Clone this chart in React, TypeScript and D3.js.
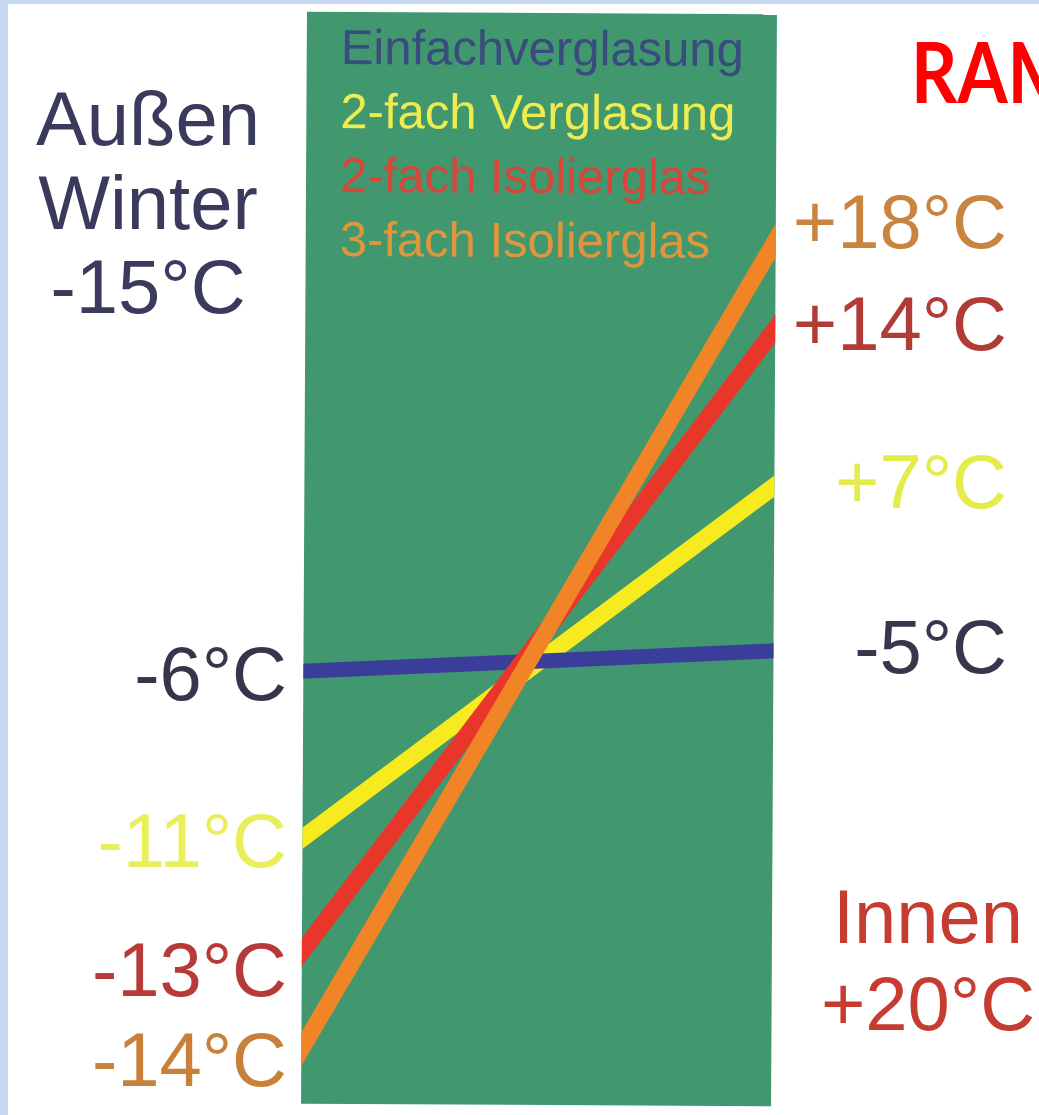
import React from "react";
import * as d3 from "d3";

// ---- data ----
const series = ["Einfachverglasung", "2-fach Verglasung", "2-fach Isolierglas", "3-fach Isolierglas"];
// surface temperature on the outside face (left) and inside face (right), °C
const outsideTemps = [-6, -11, -13, -14];
const insideTemps = [-5, 7, 14, 18];
// schematic height of each line end inside the panel (0 = top, 100 = bottom)
const outsideLevel = [60.4, 75.7, 86.1, 95.0];
const insideLevel = [58.3, 43.2, 28.8, 20.7];
const outsideCondition = ["Außen", "Winter", "-15°C"];
const insideCondition = ["Innen", "+20°C"];
const title = "RAM";

// ---- styles ----
const lineColors = ["#3b3d9a", "#f7ea1e", "#e9362b", "#f08426"];
const lineWidths = [15, 17, 17, 17];
const legendColors = ["#3a4b7e", "#eeec4e", "#d8463a", "#df963c"];
const outsideLabelColors = ["#35364c", "#e9ef5a", "#b63a38", "#c98039"];
const insideLabelColors = ["#36374d", "#e3ec4a", "#b23b36", "#c9843f"];
const outsideNudge = [0, 0, 15, 8];
const insideNudge = [-4, -4, -5, -18];
const drawOrder = [1, 0, 2, 3];

const W = 1039;
const H = 1115;
const panel = { x0: 304, x1: 774, y0: 13, y1: 1105 };
const FONT = "'Liberation Sans', Arial, Helvetica, sans-serif";

const fmt = (t: number) => (t > 0 ? "+" : "") + t + "°C";

export default function App() {
  const x = d3.scaleLinear().domain([0, 1]).range([panel.x0, panel.x1]);
  const y = d3.scaleLinear().domain([0, 100]).range([panel.y0, panel.y1]);
  const line = d3
    .line<[number, number]>()
    .x((d) => x(d[0]))
    .y((d) => y(d[1]));
  const cx = (panel.x0 + panel.x1) / 2;
  const cy = (panel.y0 + panel.y1) / 2;
  const labelSize = 76;

  return (
    <svg
      width={W}
      height={H}
      style={{ position: "absolute", left: 0, top: 0, display: "block" }}
      xmlns="http://www.w3.org/2000/svg"
    >
      <defs>
        <clipPath id="panelClip">
          <rect x={panel.x0} y={panel.y0} width={panel.x1 - panel.x0} height={panel.y1 - panel.y0} />
        </clipPath>
      </defs>
      <rect x={0} y={0} width={W} height={H} fill="#ffffff" />
      <rect x={0} y={0} width={8} height={H} fill="#c6d9f1" />
      <rect x={0} y={0} width={W} height={4} fill="#c6d9f1" />

      <g transform={`rotate(0.31 ${cx} ${cy})`}>
        <rect
          x={panel.x0}
          y={panel.y0}
          width={panel.x1 - panel.x0}
          height={panel.y1 - panel.y0}
          fill="#41986f"
        />
        <g clipPath="url(#panelClip)">
          {drawOrder.map((i) => (
            <path
              key={series[i]}
              d={line([
                [-0.02, outsideLevel[i] + (insideLevel[i] - outsideLevel[i]) * -0.02],
                [1.02, outsideLevel[i] + (insideLevel[i] - outsideLevel[i]) * 1.02],
              ]) as string}
              stroke={lineColors[i]}
              strokeWidth={lineWidths[i]}
              fill="none"
            />
          ))}
        </g>
        {series.map((s, i) => (
          <text
            key={s}
            x={338}
            y={65 + i * 64}
            fontFamily={FONT}
            fontSize={49}
            fill={legendColors[i]}
          >
            {s}
          </text>
        ))}
      </g>

      {outsideTemps.map((t, i) => (
        <text
          key={"o" + i}
          x={287}
          y={y(outsideLevel[i]) + outsideNudge[i]}
          dy="0.36em"
          textAnchor="end"
          fontFamily={FONT}
          fontSize={labelSize}
          fill={outsideLabelColors[i]}
        >
          {fmt(t)}
        </text>
      ))}
      {insideTemps.map((t, i) => (
        <text
          key={"i" + i}
          x={1007}
          y={y(insideLevel[i]) + insideNudge[i]}
          dy="0.36em"
          textAnchor="end"
          fontFamily={FONT}
          fontSize={labelSize}
          fill={insideLabelColors[i]}
        >
          {fmt(t)}
        </text>
      ))}

      {outsideCondition.map((s, i) => (
        <text
          key={s}
          x={148}
          y={145 + i * 84}
          textAnchor="middle"
          fontFamily={FONT}
          fontSize={labelSize}
          fill="#3a3b5c"
        >
          {s}
        </text>
      ))}
      {insideCondition.map((s, i) => (
        <text
          key={s}
          x={928}
          y={943 + i * 87}
          textAnchor="middle"
          fontFamily={FONT}
          fontSize={labelSize}
          fill="#c63c31"
        >
          {s}
        </text>
      ))}

      <g transform="translate(911 103) scale(0.86 1)">
        <text
          x={0}
          y={0}
          fontFamily="Lato, 'Open Sans', sans-serif"
          fontWeight="bold"
          fontSize={84}
          fill="#ff0000"
        >
          {title}
        </text>
      </g>
    </svg>
  );
}
